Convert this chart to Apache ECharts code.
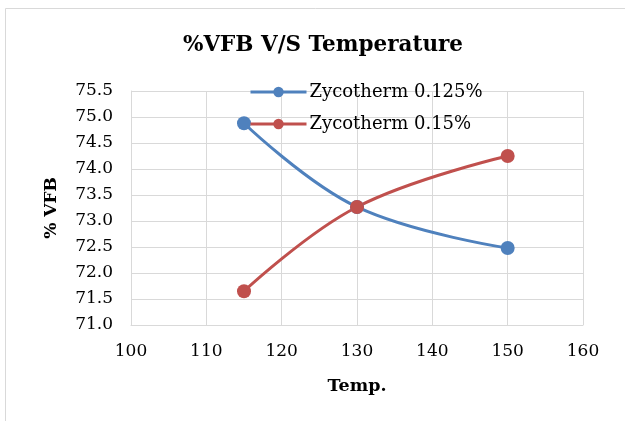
<!DOCTYPE html>
<html>
<head>
<meta charset="utf-8">
<script src="https://cdn.jsdelivr.net/npm/echarts@6/dist/echarts.min.js"></script>
<style>
  html, body { margin: 0; padding: 0; background: #fff; }
  #chart { width: 625px; height: 421px; }
</style>
</head>
<body>
<div id="chart"></div>
<script>
// temperatures and %VFB
const temps = [115, 130, 150];
const vfb0125 = [74.88, 73.27, 72.48];
const vfb015 = [71.65, 73.27, 74.25];
const seriesNames = ['Zycotherm 0.125%', 'Zycotherm 0.15%'];

const chart = echarts.init(document.getElementById('chart'));
const font = 'DejaVu Serif';
const gridColor = '#d9d9d9';

const option = {
  animation: false,
  graphic: [{
    type: 'rect',
    shape: { x: 5.5, y: 8.5, width: 700, height: 500 },
    style: { fill: 'none', stroke: gridColor, lineWidth: 1 }
  }],
  title: {
    text: '%VFB V/S Temperature',
    left: 318,
    top: 29,
    textAlign: 'center',
    textStyle: { fontFamily: font, fontWeight: 'bold', fontSize: 21.5, color: '#000' }
  },
  legend: {
    orient: 'vertical',
    left: 244,
    top: 78,
    itemGap: 14,
    itemWidth: 56,
    itemHeight: 13,
    lineStyle: { width: 3 },
    textStyle: { fontFamily: font, fontSize: 18, color: '#000', padding: [0, 0, 0, -2] },
    data: seriesNames
  },
  grid: { left: 131, right: 42, top: 91, bottom: 96 },
  xAxis: {
    type: 'value',
    min: 100, max: 160, interval: 10,
    name: 'Temp.',
    nameLocation: 'middle',
    nameGap: 52,
    nameTextStyle: { fontFamily: font, fontWeight: 'bold', fontSize: 17.5, color: '#000' },
    axisLine: { show: true, lineStyle: { color: gridColor } },
    axisTick: { show: false },
    axisLabel: { fontFamily: font, fontSize: 17, color: '#000', margin: 18 },
    splitLine: { show: true, lineStyle: { color: gridColor } }
  },
  yAxis: {
    type: 'value',
    min: 71, max: 75.5, interval: 0.5,
    name: '% VFB',
    nameLocation: 'middle',
    nameGap: 71,
    nameTextStyle: { fontFamily: font, fontWeight: 'bold', fontSize: 17, color: '#000' },
    axisLine: { show: true, lineStyle: { color: gridColor } },
    axisTick: { show: false },
    axisLabel: { fontFamily: font, fontSize: 17, color: '#000', margin: 18,
      formatter: v => v.toFixed(1) },
    splitLine: { show: true, lineStyle: { color: gridColor } }
  },
  series: [
    {
      name: seriesNames[0],
      type: 'line',
      smooth: 0.4,
      data: temps.map((t, i) => [t, vfb0125[i]]),
      symbol: 'circle',
      symbolSize: 14,
      itemStyle: { color: '#4f81bd' },
      lineStyle: { width: 3, color: '#4f81bd' }
    },
    {
      name: seriesNames[1],
      type: 'line',
      smooth: 0.4,
      data: temps.map((t, i) => [t, vfb015[i]]),
      symbol: 'circle',
      symbolSize: 14,
      itemStyle: { color: '#c0504d' },
      lineStyle: { width: 3, color: '#c0504d' }
    }
  ]
};

chart.setOption(option);
</script>
</body>
</html>
